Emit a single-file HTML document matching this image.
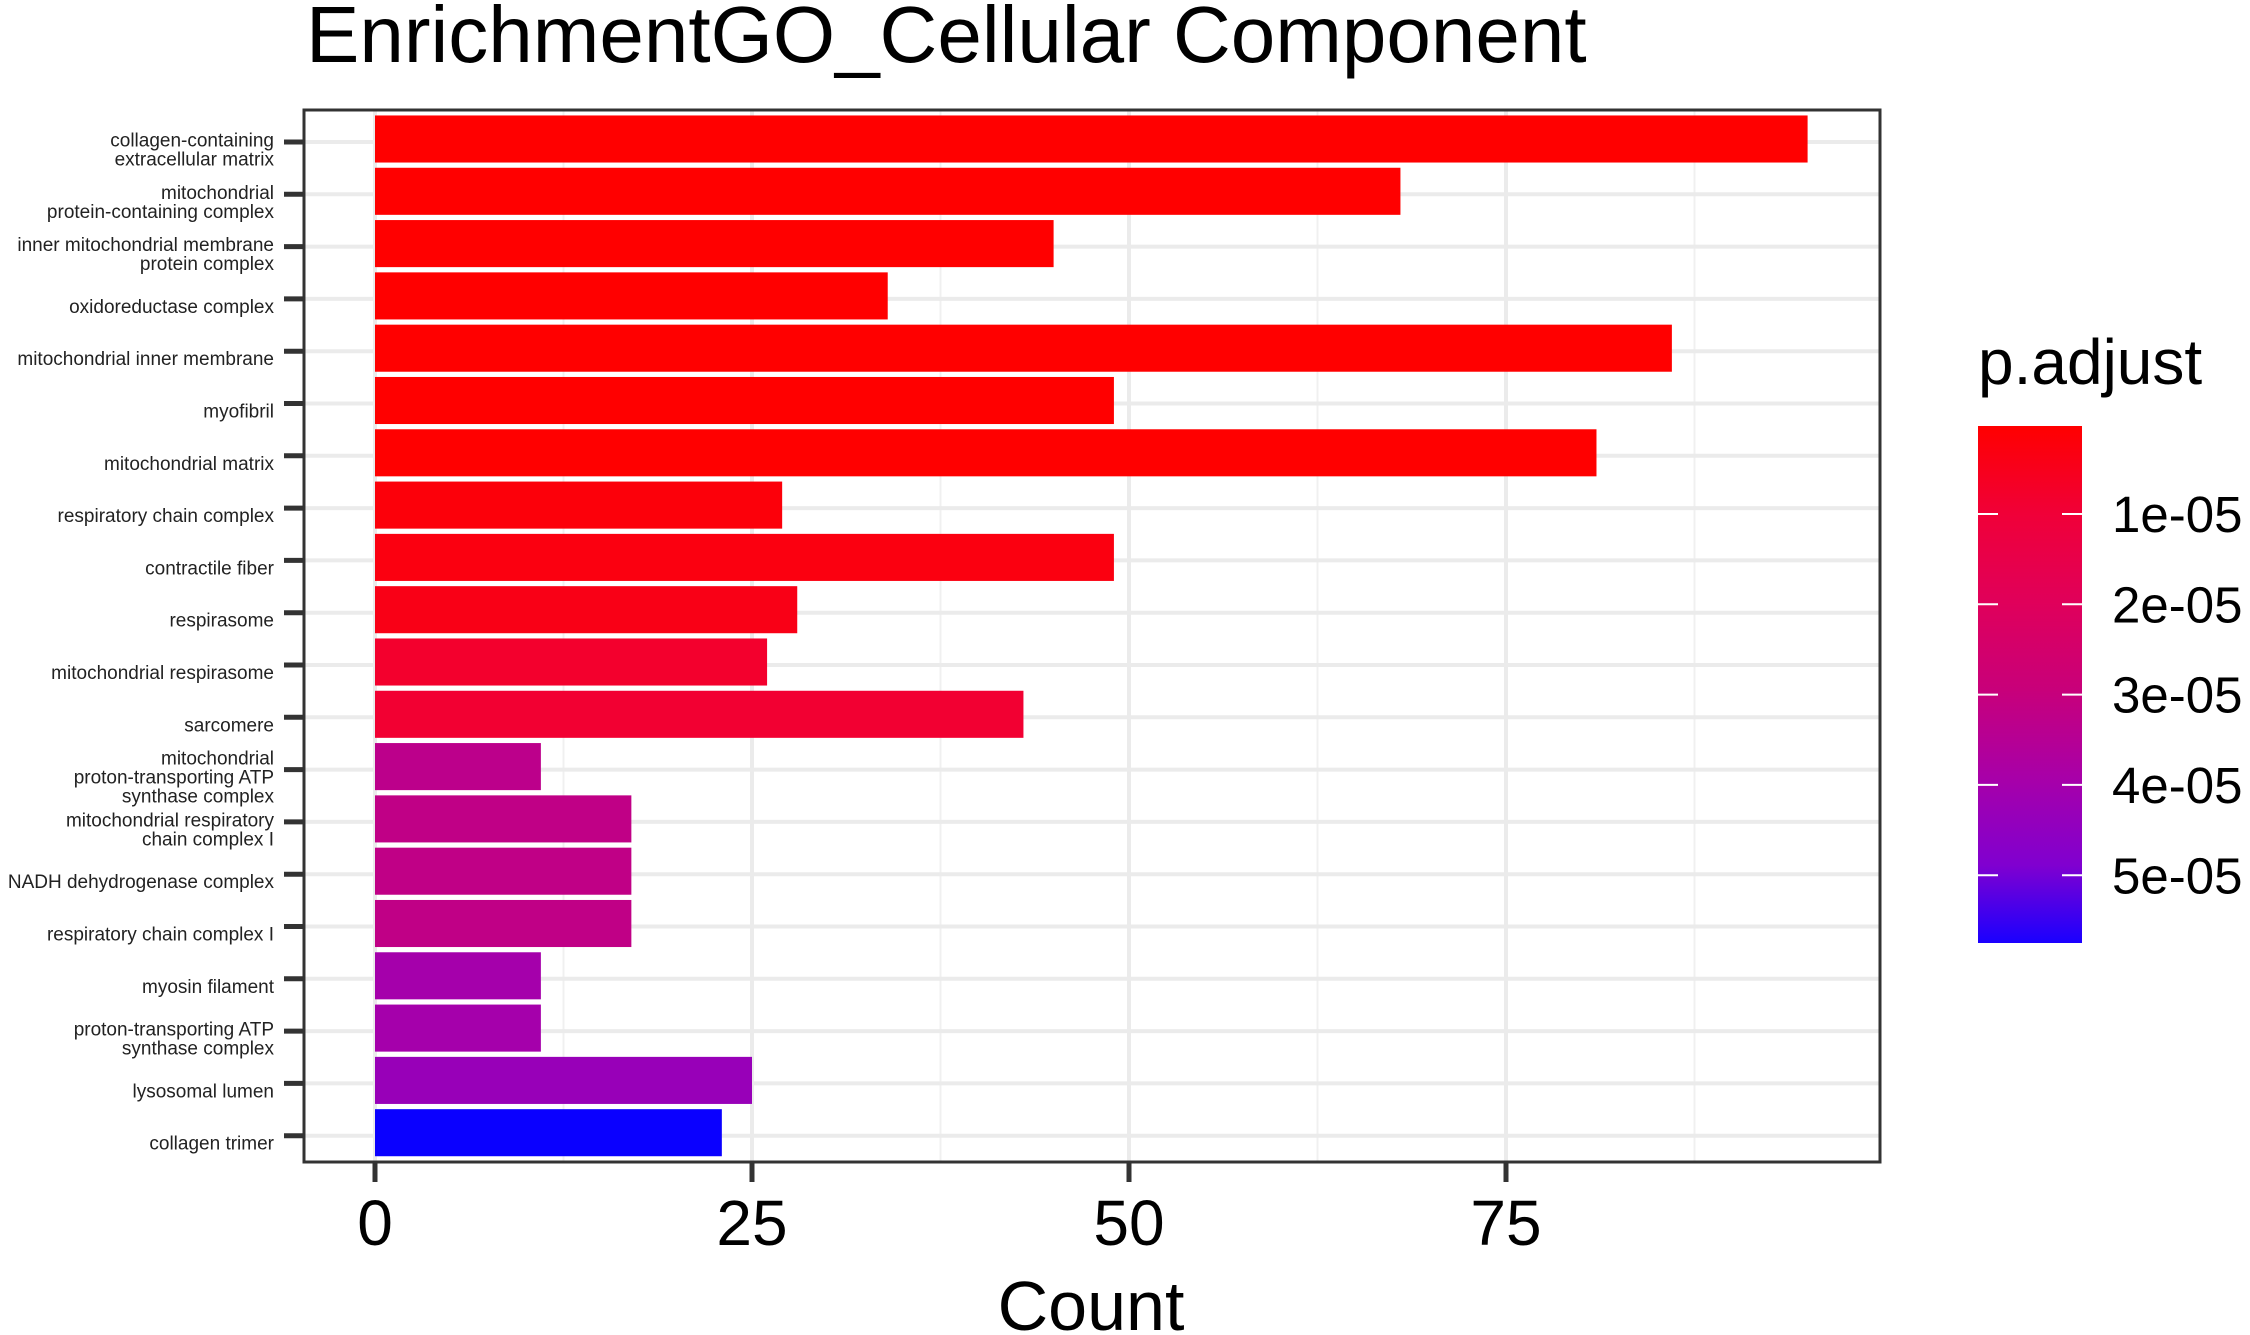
<!DOCTYPE html>
<html><head><meta charset="utf-8"><style>
html,body{margin:0;padding:0;background:#fff;}
svg{display:block;font-family:"Liberation Sans",Arial,sans-serif;}
</style></head><body>
<svg id="chart" width="2250" height="1335" viewBox="0 0 2250 1335">
<text x="306" y="62" font-size="80" fill="#000">EnrichmentGO_Cellular Component</text>
<g id="grid"></g>
<g id="bars"></g>
<rect x="304" y="110" width="1576" height="1052" fill="none" stroke="#333" stroke-width="3"/>
<g id="yaxis"></g>
<g id="xaxis"></g>
<text x="1091" y="1330" font-size="70" text-anchor="middle">Count</text>
<g id="legend">
<defs><linearGradient id="grad" x1="0" y1="0" x2="0" y2="1">
<stop offset="0" stop-color="#ff0000"/><stop offset="0.17" stop-color="#f00038"/><stop offset="0.34" stop-color="#e0005a"/><stop offset="0.51" stop-color="#c8007a"/><stop offset="0.68" stop-color="#a800a8"/><stop offset="0.85" stop-color="#8000d0"/><stop offset="1" stop-color="#1a00ff"/></linearGradient></defs>
<text x="1978" y="384" font-size="64">p.adjust</text>
<rect x="1978" y="426" width="104" height="517" fill="url(#grad)"/>
<g id="legendTicks"></g>
</g>
</svg>
<script>
const categories=["collagen-containing\nextracellular matrix","mitochondrial\nprotein-containing complex","inner mitochondrial membrane\nprotein complex","oxidoreductase complex","mitochondrial inner membrane","myofibril","mitochondrial matrix","respiratory chain complex","contractile fiber","respirasome","mitochondrial respirasome","sarcomere","mitochondrial\nproton-transporting ATP\nsynthase complex","mitochondrial respiratory\nchain complex I","NADH dehydrogenase complex","respiratory chain complex I","myosin filament","proton-transporting ATP\nsynthase complex","lysosomal lumen","collagen trimer"];
const counts=[95,68,45,34,86,49,81,27,49,28,26,43,11,17,17,17,11,11,25,23];
const padj=[3e-7,3e-7,3e-7,3e-7,3e-7,3e-7,3e-7,2e-6,3e-6,4e-6,8e-6,9e-6,3.3e-5,3.2e-5,3.2e-5,3.2e-5,4e-5,4e-5,4.3e-5,5.75e-5];
const xTicks=[0,25,50,75];
const xMinor=[12.5,37.5,62.5,87.5];
const legendTicks=[1e-5,2e-5,3e-5,4e-5,5e-5];
const legendLabels=["1e-05","2e-05","3e-05","4e-05","5e-05"];
const NS="http://www.w3.org/2000/svg";
const X0=375,XU=15.08,PT=110,PB=1162,PL=304,PR=1880;
const bandH=52.3;
const FIRST=139;
const xs=v=>X0+v*XU;
const ys=i=>FIRST+i*bandH;
const pMin=2.6e-7,pMax=5.75e-5;
const LT=426,LH=517;
const stops=[[0,[255,0,0]],[0.17,[240,0,56]],[0.34,[224,0,90]],[0.51,[200,0,122]],[0.68,[168,0,168]],[0.85,[128,0,208]],[1,[10,0,255]]];
function col(p){let t=(p-pMin)/(pMax-pMin);t=Math.max(0,Math.min(1,t));
for(let k=1;k<stops.length;k++){if(t<=stops[k][0]){const a=stops[k-1],b=stops[k];const f=(t-a[0])/(b[0]-a[0]);
return 'rgb('+a[1].map((c,j)=>Math.round(c+(b[1][j]-c)*f)).join(',')+')';}}return 'rgb(10,0,255)';}
function mk(tag,at,parent){const e=document.createElementNS(NS,tag);for(const k in at)e.setAttribute(k,at[k]);parent.appendChild(e);return e;}
const grid=document.getElementById('grid');
mk('rect',{x:PL,y:PT,width:PR-PL,height:PB-PT,fill:'#fff'},grid);
xMinor.forEach(v=>{const l=mk('line',{x1:xs(v),x2:xs(v),y1:PT,y2:PB,stroke:'#f0f0f0','stroke-width':2},grid);

});
xTicks.forEach(v=>{const l=mk('line',{x1:xs(v),x2:xs(v),y1:PT,y2:PB,stroke:'#ebebeb','stroke-width':4},grid);

});
categories.forEach((c,i)=>{const l=mk('line',{x1:PL,x2:PR,y1:ys(i)+3,y2:ys(i)+3,stroke:'#ebebeb','stroke-width':4},grid);

});
const bars=document.getElementById('bars');
counts.forEach((v,i)=>{const h=bandH*0.9;const r=mk('rect',{x:xs(0),y:ys(i)-h/2,width:xs(v)-xs(0),height:h,fill:col(padj[i])},bars);

});
const ya=document.getElementById('yaxis');
categories.forEach((c,i)=>{const y=ys(i)+3;
const t=mk('line',{x1:PL-20,x2:PL,y1:y,y2:y,stroke:'#333','stroke-width':5},ya);


const lines=c.split('\n');const lh=19;const y0=y-(lines.length-1)*lh/2+14;
const tx=mk('text',{x:274,y:y0,'font-size':19,'text-anchor':'end',fill:'#222'},ya);


lines.forEach((s,k)=>{const sp=mk('tspan',{x:274,dy:k?lh:0},tx);sp.textContent=s;});});
const xa=document.getElementById('xaxis');
xTicks.forEach(v=>{const t=mk('line',{x1:xs(v),x2:xs(v),y1:PB,y2:PB+20,stroke:'#333','stroke-width':5},xa);


const tx=mk('text',{x:xs(v),y:1245,'font-size':64,'text-anchor':'middle'},xa);tx.textContent=v;

});
const lg=document.getElementById('legendTicks');
legendTicks.forEach((p,k)=>{const y=LT+(p-pMin)/(pMax-pMin)*LH;
[[1978,1998],[2062,2082]].forEach(s=>{const l=mk('line',{x1:s[0],x2:s[1],y1:y,y2:y,stroke:'#fff','stroke-width':2},lg);

});
const tx=mk('text',{x:2112,y:y+18,'font-size':51},lg);tx.textContent=legendLabels[k];

});
</script>
</body></html>
